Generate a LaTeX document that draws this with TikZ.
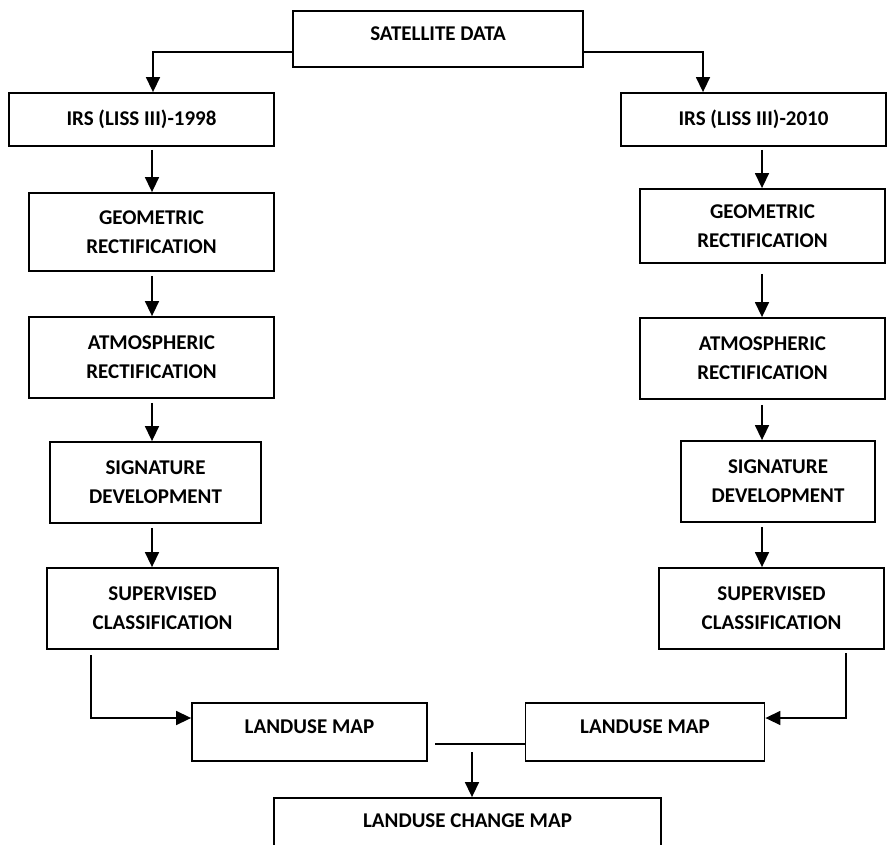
\documentclass[tikz,border=0pt]{standalone}
\usepackage{fontspec}
\setmainfont{Carlito}
\usetikzlibrary{arrows.meta,calc}
\begin{document}
\begin{tikzpicture}[x=1pt,y=-1pt,
  box/.style={draw, line width=1.8pt, inner sep=0pt, align=center,
    font=\bfseries\fontsize{21}{29}\selectfont},
  arr/.style={line width=1.5pt, -{Triangle[width=14pt,length=15pt]}},
  ln/.style={line width=1.5pt}]
\useasboundingbox (0,0) rectangle (894,845);
\clip (0,0) rectangle (894,845);
\fill[white] (0,0) rectangle (894,845);

\node[box, minimum width=290pt, minimum height=56pt, text depth=10pt] (sat) at (438,39) {SATELLITE DATA};

\node[box, minimum width=265pt, minimum height=53pt] (irs1) at (141.5,119.5) {IRS (LISS III)-1998};
\node[box, minimum width=265pt, minimum height=53pt] (irs2) at (753.5,119.5) {IRS (LISS III)-2010};

\node[box, minimum width=245pt, minimum height=78pt] (geo1) at (151.5,232) {GEOMETRIC\\RECTIFICATION};
\node[box, minimum width=245pt, minimum height=81pt] (atm1) at (151.5,357.5) {ATMOSPHERIC\\RECTIFICATION};
\node[box, minimum width=211pt, minimum height=81pt] (sig1) at (155.5,482.5) {SIGNATURE\\DEVELOPMENT};
\node[box, minimum width=231pt, minimum height=81pt] (sup1) at (162.5,608.5) {SUPERVISED\\CLASSIFICATION};

\node[box, minimum width=245pt, minimum height=74pt] (geo2) at (762.5,226) {GEOMETRIC\\RECTIFICATION};
\node[box, minimum width=245pt, minimum height=81pt] (atm2) at (762.5,358.5) {ATMOSPHERIC\\RECTIFICATION};
\node[box, minimum width=194pt, minimum height=81pt] (sig2) at (778,481.5) {SIGNATURE\\DEVELOPMENT};
\node[box, minimum width=225pt, minimum height=81pt] (sup2) at (771.5,608.5) {SUPERVISED\\CLASSIFICATION};

\node[box, minimum width=235pt, minimum height=58pt, text depth=10pt] (lu1) at (309.5,732) {LANDUSE MAP};
\node[box, minimum width=239pt, minimum height=58pt, text depth=10pt] (lu2) at (645,732) {LANDUSE MAP};
\node[box, minimum width=387pt, minimum height=58pt, text depth=12pt] (chg) at (467.5,827) {LANDUSE CHANGE MAP};

% top split
\coordinate (e1) at (153,52);
\coordinate (e2) at (703,52);
\draw[arr] (e1 -| sat.west) -- (e1) -- (e1 |- irs1.north);
\draw[arr] (e2 -| sat.east) -- (e2) -- (e2 |- irs2.north);

% columns
\coordinate (lx) at (152,0);
\coordinate (rx) at (762,0);
\draw[arr] ($(lx |- irs1.south)+(0,3)$) -- (lx |- geo1.north);
\draw[arr] ($(lx |- geo1.south)+(0,4)$) -- (lx |- atm1.north);
\draw[arr] ($(lx |- atm1.south)+(0,4)$) -- (lx |- sig1.north);
\draw[arr] ($(lx |- sig1.south)+(0,4)$) -- (lx |- sup1.north);

\draw[arr] ($(rx |- irs2.south)+(0,3)$) -- (rx |- geo2.north);
\draw[arr] ($(rx |- geo2.south)+(0,10)$) -- (rx |- atm2.north);
\draw[arr] ($(rx |- atm2.south)+(0,5)$) -- (rx |- sig2.north);
\draw[arr] ($(rx |- sig2.south)+(0,4)$) -- (rx |- sup2.north);

% bottom
\coordinate (b1s) at (91,655);
\coordinate (b1) at (91,718);
\draw[arr] (b1s) -- (b1) -- (b1 -| lu1.west);
\coordinate (b2s) at (846,653);
\coordinate (b2) at (846,718);
\draw[arr] (b2s) -- (b2) -- (b2 -| lu2.east);
\coordinate (m1) at (435,744);
\draw[ln] (m1) -- (m1 -| lu2.west);
\coordinate (m2) at (472,752);
\draw[arr] (m2) -- (m2 |- chg.north);
\end{tikzpicture}
\end{document}
